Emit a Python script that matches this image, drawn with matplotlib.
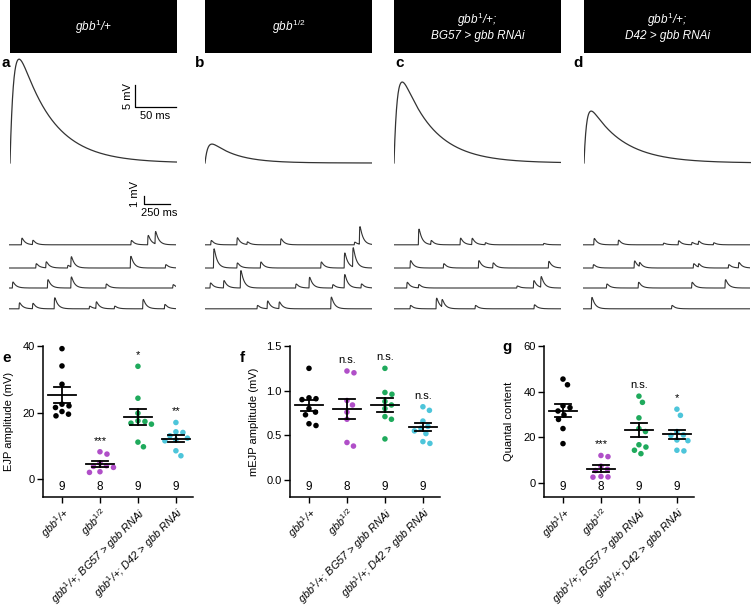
import numpy as np
import matplotlib
matplotlib.use('Agg')
import matplotlib.pyplot as plt
from matplotlib.patches import Rectangle
from matplotlib.transforms import blended_transform_factory

plt.rcParams['font.family'] = ['Liberation Sans', 'DejaVu Sans']
plt.rcParams['mathtext.fontset'] = 'custom'
plt.rcParams['mathtext.rm'] = 'Liberation Sans'
plt.rcParams['mathtext.it'] = 'Liberation Sans:italic'
plt.rcParams['mathtext.bf'] = 'Liberation Sans:bold'

# ---------------- data ----------------
header_labels = [r'$gbb^{1}$/+', r'$gbb^{1/2}$',
                 '$gbb^{1}$/+;\nBG57 > gbb RNAi', '$gbb^{1}$/+;\nD42 > gbb RNAi']
panel_letters = ['a', 'b', 'c', 'd']
category_labels = [r'$gbb^{1}$/+', r'$gbb^{1/2}$',
                   r'$gbb^{1}$/+; BG57 > gbb RNAi', r'$gbb^{1}$/+; D42 > gbb RNAi']
group_colors = ['#000000', '#B04FC8', '#1FAA5C', '#4DC5DA']

# representative EJP traces (mV, ms)
ejp_trace_amp = [23.6, 4.3, 18.4, 11.8]
ejp_rise_ms = [4.5, 3.5, 4.0, 3.2]
ejp_decay_ms = [40, 30, 38, 40]

# spontaneous mEJP traces: event times (ms) and amplitudes (mV), 4 rows per panel
mini_times_a = [[119, 225, 1172, 1333, 1404],
                [257, 353, 562, 594, 1166, 1503],
                [32, 369, 594, 931, 1574],
                [96, 225, 434, 771, 835, 1012, 1285, 1494]]
mini_amps_a = [[0.83, 0.54, 0.54, 1.17, 1.54],
               [0.54, 0.75, 0.33, 1.29, 1.46, 0.42],
               [0.75, 1.04, 1.38, 0.50, 0.42],
               [0.75, 0.67, 1.38, 0.33, 0.83, 0.33, 1.17, 0.54]]
mini_times_b = [[55, 306, 403, 726, 1435, 1484],
                [81, 306, 532, 1113, 1338, 1419],
                [48, 177, 339, 871, 1000, 1225, 1338, 1500],
                [500, 597, 710, 1209]]
mini_amps_b = [[0.54, 0.88, 0.33, 0.75, 0.33, 2.20],
               [2.40, 0.63, 0.75, 0.75, 1.88, 2.40],
               [0.63, 0.92, 2.17, 0.50, 1.33, 0.42, 1.67, 0.50],
               [0.42, 0.96, 0.83, 1.46]]
mini_times_c = [[234, 353, 635, 747, 875, 1436],
                [154, 474, 811, 949, 1484],
                [122, 234, 1180, 1340, 1410],
                [154, 404, 458, 779, 1346]]
mini_amps_c = [[1.96, 0.50, 0.83, 0.79, 0.25, 0.17],
               [0.92, 0.54, 0.92, 0.63, 0.83],
               [0.71, 0.42, 0.25, 0.92, 1.33],
               [0.42, 1.33, 0.92, 0.42, 0.50]]
mini_times_d = [[103, 337, 771, 915, 1044, 1108, 1253],
                [96, 491, 540, 1060, 1108, 1397, 1494],
                [225, 530, 1044, 1365],
                [80, 851]]
mini_amps_d = [[0.79, 0.58, 0.21, 0.50, 0.29, 0.42, 0.25],
               [0.42, 0.88, 0.50, 0.54, 0.42, 0.42, 0.67],
               [0.50, 0.71, 0.71, 1.04],
               [1.42, 0.42]]

# EJP amplitude (mV)
ejp_ctrl = [39.2, 34.0, 28.5, 22.5, 22.0, 21.5, 20.3, 19.0, 19.5]
ejp_mut = [8.2, 7.5, 4.8, 4.0, 3.8, 3.5, 2.2, 2.0]
ejp_bg57 = [33.9, 24.3, 19.8, 17.5, 17.3, 16.8, 16.5, 11.1, 9.7]
ejp_d42 = [17.0, 14.2, 14.0, 13.0, 12.3, 11.8, 11.5, 8.5, 7.0]
ejp_sig = ['', '***', '*', '**']

# mEJP amplitude (mV)
mejp_ctrl = [1.25, 0.92, 0.91, 0.90, 0.80, 0.76, 0.73, 0.63, 0.61]
mejp_mut = [1.22, 1.20, 0.89, 0.84, 0.76, 0.68, 0.42, 0.38]
mejp_bg57 = [1.25, 0.98, 0.96, 0.88, 0.84, 0.80, 0.71, 0.68, 0.46]
mejp_d42 = [0.82, 0.78, 0.66, 0.60, 0.58, 0.55, 0.52, 0.43, 0.41]
mejp_sig = ['', 'n.s.', 'n.s.', 'n.s.']

# quantal content
qc_ctrl = [45.5, 43.0, 33.8, 33.0, 31.5, 29.8, 27.8, 23.8, 17.2]
qc_mut = [12.0, 11.5, 7.3, 6.0, 5.4, 2.8, 2.6, 2.5]
qc_bg57 = [38.0, 35.3, 28.5, 23.8, 22.5, 16.7, 15.7, 14.3, 12.8]
qc_d42 = [32.3, 29.6, 22.5, 21.0, 20.8, 18.8, 18.5, 14.3, 14.0]
qc_sig = ['', '***', 'n.s.', '*']

# ---------------- layout helpers ----------------
W, H = 751, 610
fig = plt.figure(figsize=(W / 100, H / 100), dpi=100)


def px_rect(x0, y0, x1, y1):
    return [x0 / W, 1 - y1 / H, (x1 - x0) / W, (y1 - y0) / H]


def psp(t, amp, tr, td):
    t = np.clip(t, 0, None)
    tp = tr * td / (td - tr) * np.log(td / tr)
    peak = np.exp(-tp / td) - np.exp(-tp / tr)
    return amp * (np.exp(-t / td) - np.exp(-t / tr)) / peak


trace_color = '#333333'
panel_x0 = [10, 205, 394, 584]
panel_w = 167

# headers
for i, lab in enumerate(header_labels):
    x0 = panel_x0[i]
    fig.patches.append(Rectangle((x0 / W, 1 - 53 / H), panel_w / W, 53 / H,
                                 transform=fig.transFigure, facecolor='black',
                                 edgecolor='none'))
    fig.text((x0 + panel_w / 2) / W, 1 - 26.5 / H, lab, color='white',
             fontstyle='italic', fontsize=8.5, ha='center', va='center',
             linespacing=1.2)

letter_x = [1, 195, 395, 573]
for i, l in enumerate(panel_letters):
    fig.text(letter_x[i] / W, 1 - 67 / H, l, fontsize=11, fontweight='bold',
             ha='left', va='baseline')

# EJP traces
px_per_ms = 0.82
px_per_mv = 4.4
t_ejp = np.arange(0, panel_w / px_per_ms, 0.25)
for i in range(4):
    ax = fig.add_axes(px_rect(panel_x0[i], 53, panel_x0[i] + panel_w, 168))
    ax.set_xlim(0, panel_w / px_per_ms)
    ax.set_ylim(-(168 - 163) / px_per_mv, (163 - 53) / px_per_mv)
    ax.plot(t_ejp, psp(t_ejp, ejp_trace_amp[i], ejp_rise_ms[i], ejp_decay_ms[i]),
            color=trace_color, lw=0.9)
    ax.axis('off')
    if i == 0:
        sx = (135 - 10) / px_per_ms
        sy = (163 - 107) / px_per_mv
        ax.plot([sx, sx, sx + 50], [sy + 5, sy, sy], color='k', lw=0.9,
                clip_on=False)
        ax.text(sx - 2, sy + 2.5, '5 mV', rotation=90, ha='right', va='center',
                fontsize=8)
        ax.text(sx + 25, sy - 0.8, '50 ms', ha='center', va='top', fontsize=8)

# mEJP traces
mini_times = [mini_times_a, mini_times_b, mini_times_c, mini_times_d]
mini_amps = [mini_amps_a, mini_amps_b, mini_amps_c, mini_amps_d]
mini_x0 = [9, 205, 394, 583]
row_base_mv = [9.4, 6.5, 4.0, 1.4]
mini_dur = 1606
mini_px_per_mv = 8.0
t_mini = np.arange(0, mini_dur, 1.0)
for i in range(4):
    ax = fig.add_axes(px_rect(mini_x0[i], 185, mini_x0[i] + panel_w, 320))
    ax.set_xlim(0, mini_dur)
    ax.set_ylim(0, 135 / mini_px_per_mv)
    ax.axis('off')
    for r in range(4):
        v = np.full_like(t_mini, row_base_mv[r])
        for tt, aa in zip(mini_times[i][r], mini_amps[i][r]):
            v = v + psp(t_mini - tt, aa, 2.5, 30.0)
        ax.plot(t_mini, v, color=trace_color, lw=0.8)
    if i == 0:
        sx = (144 - mini_x0[0]) / panel_w * mini_dur
        sy = (320 - 204) / mini_px_per_mv
        ax.plot([sx, sx, sx + 250], [sy + 1, sy, sy], color='k', lw=0.9,
                clip_on=False)
        ax.text(sx - 40, sy + 1.2, '1 mV', rotation=90, ha='right', va='center',
                fontsize=8)
        ax.text(sx + 150, sy - 0.45, '250 ms', ha='center', va='top', fontsize=8)


# scatter panels
def swarm_offsets(vals, ppx, ppy, d=7.0):
    vals = np.asarray(vals, dtype=float)
    order = np.argsort(-vals, kind='stable')
    cands = [0.0]
    for k in range(1, 80):
        cands += [k * 0.5, -k * 0.5]
    placed = []
    offs = np.zeros(len(vals))
    for idx in order:
        y = vals[idx] * ppy
        for c in cands:
            if all((c - px) ** 2 + (y - py) ** 2 >= d * d for px, py in placed):
                break
        placed.append((c, y))
        offs[idx] = c / ppx
    return offs


def scatter_panel(x0, groups, ylim, yticks, ytl, ylabel, ylabel_x, sig, letter,
                  letter_xy):
    ax = fig.add_axes(px_rect(x0, 346, x0 + 150, 497))
    ax.set_xlim(-0.5, 3.45)
    ax.set_ylim(*ylim)
    ppx = 150 / 3.95
    ppy = 151 / (ylim[1] - ylim[0])
    blend = blended_transform_factory(ax.transData, ax.transAxes)
    for i, vals in enumerate(groups):
        offs = swarm_offsets(vals, ppx, ppy)
        ax.scatter(i + offs, vals, s=16,
                   color=group_colors[i], edgecolors='none', zorder=3,
                   clip_on=False)
        m = np.mean(vals)
        se = np.std(vals, ddof=1) / np.sqrt(len(vals))
        ax.plot([i - 0.37, i + 0.37], [m, m], color='k', lw=1.3, zorder=4)
        ax.plot([i - 0.2, i + 0.2], [m + se, m + se], color='k', lw=1.3, zorder=4)
        ax.plot([i - 0.2, i + 0.2], [m - se, m - se], color='k', lw=1.3, zorder=4)
        ax.plot([i, i], [m - se, m + se], color='k', lw=1.3, zorder=4)
        ax.text(i, 0.066, str(len(vals)), transform=blend, ha='center',
                va='center', fontsize=8.5)
        if sig[i]:
            ax.annotate(sig[i], xy=(i, max(vals)), xytext=(0, 11),
                        textcoords='offset pixels', ha='center', va='center',
                        fontsize=8)
    ax.set_xticks(range(4))
    ax.set_xticklabels(category_labels, rotation=45, ha='right',
                       rotation_mode='anchor', fontstyle='italic', fontsize=7.8)
    ax.set_yticks(yticks)
    ax.set_yticklabels(ytl, fontsize=8)
    ax.tick_params(direction='out', length=4, width=1, pad=2)
    for s in ['top', 'right']:
        ax.spines[s].set_visible(False)
    for s in ['left', 'bottom']:
        ax.spines[s].set_linewidth(1.1)
    ax.set_ylabel(ylabel, fontsize=8)
    ax.yaxis.set_label_coords(ylabel_x, 0.5)
    fig.text(letter_xy[0] / W, 1 - letter_xy[1] / H, letter, fontsize=11,
             fontweight='bold', ha='left', va='baseline')
    return ax


scatter_panel(43, [ejp_ctrl, ejp_mut, ejp_bg57, ejp_d42], (-5.4, 40),
              [0, 20, 40], ['0', '20', '40'], 'EJP amplitude (mV)', -0.19,
              ejp_sig, 'e', (2, 362))
scatter_panel(290, [mejp_ctrl, mejp_mut, mejp_bg57, mejp_d42], (-0.19, 1.5),
              [0, 0.5, 1.0, 1.5], ['0.0', '0.5', '1.0', '1.5'],
              'mEJP amplitude (mV)', -0.205, mejp_sig, 'f', (240, 362))
scatter_panel(544, [qc_ctrl, qc_mut, qc_bg57, qc_d42], (-6.2, 60),
              [0, 20, 40, 60], ['0', '20', '40', '60'], 'Quantal content',
              -0.2, qc_sig, 'g', (502, 351))

fig.savefig('out.png', dpi=100)
